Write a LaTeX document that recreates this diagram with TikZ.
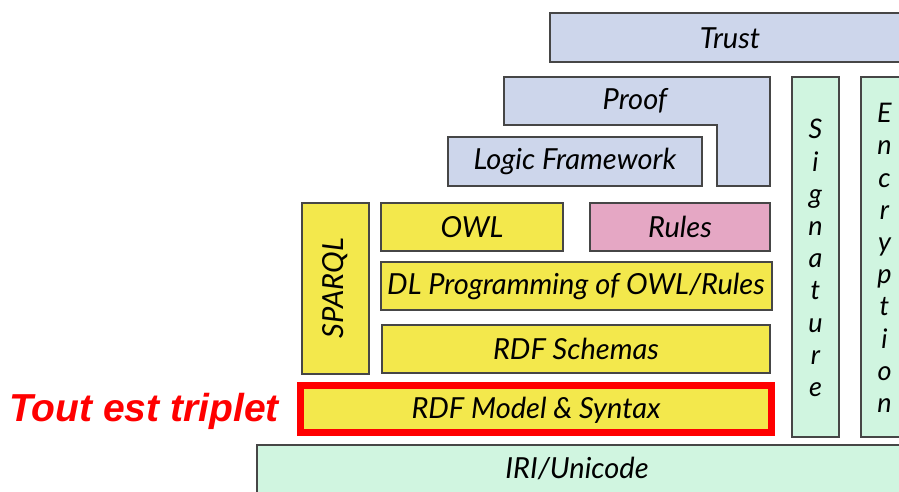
\documentclass[tikz,border=0pt]{standalone}
\usepackage{fontspec}
\setmainfont{Lato}
\newfontfamily\arialfont{Liberation Sans}
\definecolor{boxblue}{RGB}{205,214,235}
\definecolor{boxyellow}{RGB}{243,232,76}
\definecolor{boxpink}{RGB}{229,167,196}
\definecolor{boxgreen}{RGB}{208,245,224}
\definecolor{edge}{RGB}{70,70,70}
\definecolor{hired}{RGB}{255,0,0}
\tikzset{
  layer/.style={draw=edge, line width=1.3pt},
  lbl/.style={font=\fontsize{29}{31}\selectfont\itshape, text=black, inner sep=0pt},
  vlbl/.style={font=\fontsize{27}{32.2}\selectfont\itshape, text=black, inner sep=0pt, align=center},
}
\begin{document}
\begin{tikzpicture}[x=1pt,y=-1pt]
\useasboundingbox (0,0) rectangle (899,491);
\clip (0,0) rectangle (899,491);
% Trust
\draw[layer, fill=boxblue] (550,13) rectangle (915,62);
\node[lbl] (trust) at (730,38) {Trust};
% Proof L-shape
\draw[layer, fill=boxblue] (504,77) -- (770,77) -- (770,186) -- (717,186) -- (717,125) -- (504,125) -- cycle;
\node[lbl] (proof) at (635,101) {Proof};
% Logic Framework
\draw[layer, fill=boxblue] (448,137) rectangle (702,186);
\node[lbl] (logic) at (575,161) {Logic Framework};
% Signature / Encryption
\draw[layer, fill=boxgreen] (792,77) rectangle (839,437);
\node[vlbl] (sig) at (815.5,258) {S\\i\\g\\n\\a\\t\\u\\r\\e};
\draw[layer, fill=boxgreen] (861,77) rectangle (908,437);
\node[vlbl] (enc) at (884.5,258) {E\\n\\c\\r\\y\\p\\t\\i\\o\\n};
% SPARQL
\draw[layer, fill=boxyellow] (302,203) rectangle (369,374);
\node[lbl, rotate=90] (sparql) at (335.5,288) {SPARQL};
% OWL, Rules
\draw[layer, fill=boxyellow] (381,203) rectangle (563,251);
\node[lbl] (owl) at (472,227) {OWL};
\draw[layer, fill=boxpink] (590,203) rectangle (770,251);
\node[lbl] (rules) at (680,227) {Rules};
% DL Programming
\draw[layer, fill=boxyellow] (381,262) rectangle (772,310);
\node[lbl] (dl) at (576,286) {DL Programming of OWL/Rules};
% RDF Schemas
\draw[layer, fill=boxyellow] (382,325) rectangle (770,373);
\node[lbl] (rdfs) at (576,349) {RDF Schemas};
% RDF Model & Syntax with red frame
\draw[draw=hired, line width=7pt, fill=boxyellow] (300.5,385.5) rectangle (771.5,432.5);
\node[lbl] (rdfm) at (536,410) {RDF Model \& Syntax};
% IRI/Unicode
\draw[layer, fill=boxgreen] (257,445) rectangle (915,500);
\node[lbl] (iri) at (577,468) {IRI/Unicode};
% Tout est triplet
\node[font=\arialfont\bfseries\itshape\fontsize{39}{42}\selectfont, text=hired, inner sep=0pt] (tout) at (144,411) {Tout est triplet};
\end{tikzpicture}
\end{document}
